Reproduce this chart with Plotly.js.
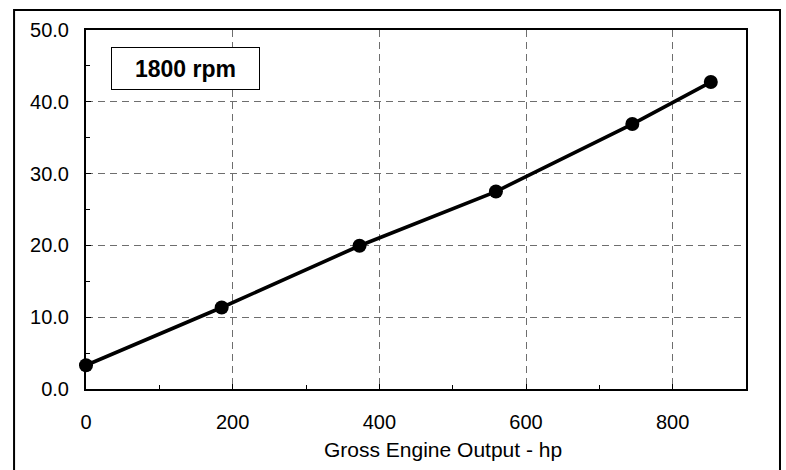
<!DOCTYPE html>
<html>
<head>
<meta charset="utf-8">
<script src="https://cdn.plot.ly/plotly-3.0.1.min.js"></script>
<style>
html,body{margin:0;padding:0;background:#fff;}
#chart{width:786px;height:470px;}
</style>
</head>
<body>
<div id="chart"></div>
<script>
// Data
const engineOutputHp = [0, 185, 373, 559, 745, 852];
const yValues = [3.3, 11.35, 19.95, 27.5, 36.9, 42.75];
const xTickVals = [0, 200, 400, 600, 800];
const xTickText = ['0', '200', '400', '600', '800'];
const yTickVals = [0, 10, 20, 30, 40, 50];
const yTickText = ['0.0', '10.0', '20.0', '30.0', '40.0', '50.0'];
const xAxisTitle = 'Gross Engine Output - hp';
const speedLabel = '1800 rpm';

const FONT = 'Liberation Sans, Arial, sans-serif';

const trace = {
  x: engineOutputHp,
  y: yValues,
  type: 'scatter',
  mode: 'lines+markers',
  line: {color: '#000000', width: 3.6},
  marker: {color: '#000000', size: 14},
  cliponaxis: false,
  hoverinfo: 'skip',
  showlegend: false
};

const axisCommon = {
  showline: true,
  linecolor: '#000000',
  linewidth: 2,
  mirror: true,
  ticks: 'inside',
  ticklen: 5,
  tickwidth: 1,
  tickcolor: '#000000',
  showgrid: true,
  gridcolor: '#6e6e6e',
  gridwidth: 1,
  griddash: '7px,5px',
  zeroline: false,
  tickfont: {family: FONT, size: 20, color: '#000000'},
  fixedrange: true
};

const layout = {
  width: 786,
  height: 470,
  margin: {l: 86, r: 40, t: 30, b: 81},
  paper_bgcolor: '#ffffff',
  plot_bgcolor: '#ffffff',
  font: {family: FONT, color: '#000000'},
  xaxis: Object.assign({}, axisCommon, {
    range: [0, 900],
    tickmode: 'array',
    tickvals: xTickVals,
    ticktext: xTickText,
    ticklabelstandoff: 14,
    minor: {dtick: 100, tick0: 0, ticks: 'inside', ticklen: 4, tickcolor: '#000000', showgrid: false}
  }),
  yaxis: Object.assign({}, axisCommon, {
    range: [0, 50],
    tickmode: 'array',
    tickvals: yTickVals,
    ticktext: yTickText,
    ticklabelstandoff: 11,
    minor: {dtick: 5, tick0: 0, ticks: 'inside', ticklen: 4, tickcolor: '#000000', showgrid: false}
  }),
  annotations: [
    {
      xref: 'paper', yref: 'paper',
      x: 0.15, y: 0.893,
      xanchor: 'center', yanchor: 'middle',
      text: '<b>' + speedLabel + '</b>',
      showarrow: false,
      font: {family: FONT, size: 23, color: '#000000'},
      bordercolor: '#000000', borderwidth: 1, borderpad: 0,
      bgcolor: '#ffffff',
      width: 147, height: 41
    },
    {
      xref: 'paper', yref: 'paper',
      x: 0.5405, y: -0.168,
      xanchor: 'center', yanchor: 'middle',
      text: xAxisTitle,
      showarrow: false,
      font: {family: FONT, size: 21, color: '#000000'}
    }
  ],
  shapes: [
    {
      type: 'rect', xref: 'paper', yref: 'paper',
      x0: -0.109, x1: 1.0515, y0: -0.24, y1: 1.0558,
      line: {color: '#000000', width: 2},
      fillcolor: 'rgba(0,0,0,0)',
      layer: 'below'
    }
  ]
};

Plotly.newPlot('chart', [trace], layout, {displayModeBar: false, staticPlot: true});
</script>
</body>
</html>
